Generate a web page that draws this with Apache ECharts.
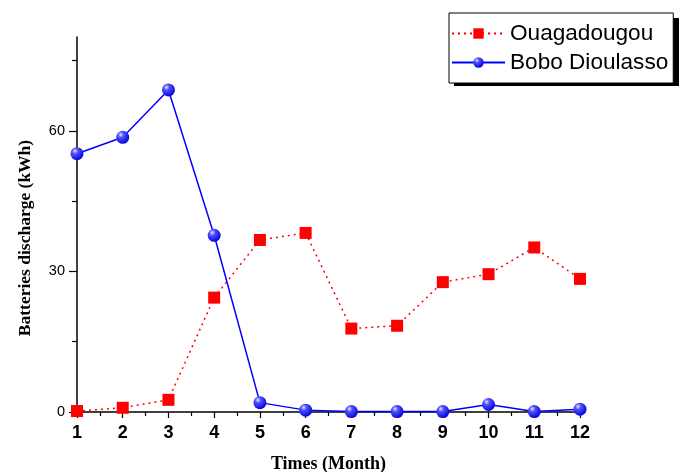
<!DOCTYPE html>
<html><head><meta charset="utf-8">
<script src="https://cdn.jsdelivr.net/npm/echarts@6/dist/echarts.min.js"></script>
<style>html,body{margin:0;padding:0;background:#fff;overflow:hidden}#c{width:681px;height:472px}</style>
</head><body><div id="c"></div>
<script>
const months = [1,2,3,4,5,6,7,8,9,10,11,12];
const ouagadougou = [0.2,0.9,2.6,24.4,36.7,38.2,17.8,18.4,27.7,29.4,35.1,28.4];
const boboDioulasso = [55.1,58.6,68.7,37.7,2.0,0.4,0.1,0.1,0.1,1.6,0.1,0.6];
const yMajorTicks = [0,30,60];
const yMinorTicks = [15,45,75];

const chart = echarts.init(document.getElementById('c'), null, {renderer:'canvas', width:681, height:472});
const sphere = new echarts.graphic.RadialGradient(0.35,0.3,0.75,[
  {offset:0,color:'#e8e8ff'},{offset:0.3,color:'#5050ff'},{offset:1,color:'#0000d8'}]);
chart.setOption({
  animation:false,
  graphic:[{
    type:'rect', left:454, top:18, z:-1, silent:true,
    shape:{width:225, height:68},
    style:{fill:'#000'}
  }],
  grid:{left:77,top:37,width:503,height:375,containLabel:false,outerBoundsMode:'none'},
  legend:{
    orient:'vertical', left:449, top:13,
    padding:[9,5,9,2], itemGap:6, itemWidth:53, itemHeight:13,
    backgroundColor:'#fff', borderColor:'#000', borderWidth:1,
    textStyle:{fontFamily:'Liberation Sans, Arial, sans-serif', fontSize:22.6, color:'#000'},
    data:['Ouagadougou','Bobo Dioulasso']
  },
  xAxis:{
    type:'value', min:1, max:12, interval:1,
    name:'Times (Month)', nameLocation:'middle', nameGap:43,
    nameTextStyle:{fontFamily:'Liberation Serif, Times New Roman, serif', fontWeight:'bold', fontSize:18, color:'#000'},
    axisLine:{lineStyle:{color:'#000',width:1.5}},
    axisTick:{length:6,lineStyle:{color:'#000',width:1.2}},
    minorTick:{show:true,splitNumber:2,length:4,lineStyle:{color:'#000',width:1.2}},
    axisLabel:{fontFamily:'Liberation Sans, Arial, sans-serif', fontWeight:'bold', fontSize:18, color:'#000', margin:12},
    splitLine:{show:false}
  },
  yAxis:[{
    type:'value', min:0, max:80,
    name:'Batteries discharge (kWh)', nameLocation:'middle', nameGap:43, nameRotate:90,
    nameTextStyle:{fontFamily:'Liberation Serif, Times New Roman, serif', fontWeight:'bold', fontSize:17.5, color:'#000', padding:[0,27,0,0]},
    axisLine:{show:true,lineStyle:{color:'#000',width:1.5}},
    axisTick:{show:true,length:8,customValues:yMajorTicks,lineStyle:{color:'#000',width:1.2}},
    axisLabel:{customValues:yMajorTicks,fontFamily:'Liberation Sans, Arial, sans-serif', fontSize:14.5, color:'#000', margin:12},
    splitLine:{show:false}
  },{
    type:'value', min:0, max:80, position:'left',
    axisLine:{show:false},
    axisTick:{show:true,length:5,customValues:yMinorTicks,lineStyle:{color:'#000',width:1.2}},
    axisLabel:{show:false},
    splitLine:{show:false}
  }],
  series:[{
    name:'Ouagadougou', type:'line',
    data: months.map((m,i)=>[m,ouagadougou[i]]),
    symbol:'rect', symbolSize:12, clip:false,
    itemStyle:{color:'#ff0000'},
    lineStyle:{color:'#ff0000',width:1.5,type:[2,4]},
    z:2
  },{
    name:'Bobo Dioulasso', type:'line',
    data: months.map((m,i)=>[m,boboDioulasso[i]]),
    symbol:'circle', symbolSize:13, clip:false,
    itemStyle:{color:sphere},
    lineStyle:{color:'#0000ff',width:1.5},
    z:3
  }]
});
</script></body></html>
